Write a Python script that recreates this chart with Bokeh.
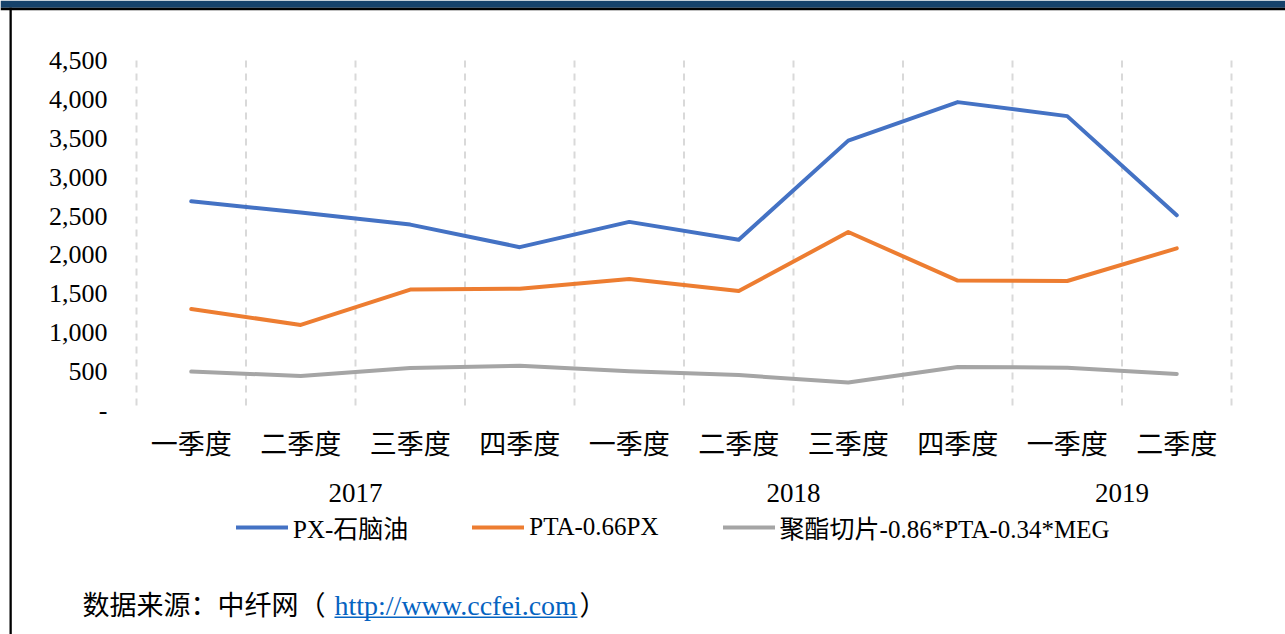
from bokeh.plotting import figure
from bokeh.models import (Range1d, FixedTicker, LinearAxis, Legend, LegendItem,
                          Label, BoxAnnotation, NumeralTickFormatter)
from bokeh.embed import file_html
from bokeh.resources import INLINE

years = ["2017", "2017", "2017", "2017", "2018", "2018", "2018", "2018", "2019", "2019"]
quarters = ["一季度", "二季度", "三季度", "四季度", "一季度", "二季度", "三季度", "四季度", "一季度", "二季度"]
px_naphtha = [2690, 2545, 2390, 2100, 2425, 2195, 3470, 3965, 3785, 2510]
pta_spread = [1305, 1100, 1555, 1565, 1690, 1535, 2295, 1670, 1665, 2085]
pet_spread = [500, 445, 545, 575, 505, 455, 360, 560, 550, 470]
series_names = ["PX-石脑油", "PTA-0.66PX", "聚酯切片-0.86*PTA-0.34*MEG"]
y_ticks = [0, 500, 1000, 1500, 2000, 2500, 3000, 3500, 4000, 4500]
source_text = "数据来源：中纤网（"
source_url = "http://www.ccfei.com"
source_close = "）"

FONT = "Liberation Serif, Noto Sans CJK SC"

# ---- layout constants (page pixels)
W, H = 1285, 634
PLOT_L, PLOT_R, PLOT_T, PLOT_B = 136, 1231, 60, 410
n = len(quarters)
idx = list(range(n))
cat_px = (PLOT_R - PLOT_L) / n
x_start = -0.5 - PLOT_L / cat_px
x_end = n - 0.5 + (W - PLOT_R) / cat_px
ymax = y_ticks[-1]
u_per_px = ymax / (PLOT_B - PLOT_T)
y_start = -(H - PLOT_B) * u_per_px
y_end = ymax + PLOT_T * u_per_px

p = figure(width=W, height=H, output_backend="svg", toolbar_location=None,
           x_range=Range1d(x_start, x_end), y_range=Range1d(y_start, y_end),
           x_axis_type=None, y_axis_type=None,
           min_border=0, min_border_left=0, min_border_right=0,
           min_border_top=0, min_border_bottom=0)
p.outline_line_color = None
p.background_fill_color = "white"
p.border_fill_color = "white"
p.grid.visible = False

# y axis (drawn at the left plot edge)
ya = LinearAxis(ticker=FixedTicker(ticks=y_ticks), formatter=NumeralTickFormatter(format="0,0"),
                major_label_overrides={0: "-"}, fixed_location=-0.5,
                axis_line_color=None, major_tick_line_color=None, minor_tick_line_color=None,
                major_tick_out=0, minor_tick_out=0, major_label_standoff=29,
                major_label_text_font=FONT, major_label_text_font_size="26px",
                major_label_text_color="black")
p.add_layout(ya, "left")

# quarter labels
qa = LinearAxis(ticker=FixedTicker(ticks=idx),
                major_label_overrides={i: q for i, q in zip(idx, quarters)},
                fixed_location=0, axis_line_color=None, major_tick_line_color=None,
                minor_tick_line_color=None, major_tick_out=0, minor_tick_out=0,
                major_label_standoff=19, major_label_text_font=FONT,
                major_label_text_font_size="27px", major_label_text_color="black")
p.add_layout(qa, "below")

# year group labels
year_names = list(dict.fromkeys(years))
year_pos = [sum(i for i, y in zip(idx, years) if y == yr) / years.count(yr) for yr in year_names]
ya2 = LinearAxis(ticker=FixedTicker(ticks=year_pos),
                 major_label_overrides={pos: yr for pos, yr in zip(year_pos, year_names)},
                 fixed_location=0, axis_line_color=None, major_tick_line_color=None,
                 minor_tick_line_color=None, major_tick_out=0, minor_tick_out=0,
                 major_label_standoff=73, major_label_text_font=FONT,
                 major_label_text_font_size="27px", major_label_text_color="black")
p.add_layout(ya2, "below")

# dashed category boundaries
bounds = [i - 0.5 for i in range(n + 1)]
p.segment(x0=bounds, y0=[ymax] * len(bounds), x1=bounds, y1=[y_ticks[0]] * len(bounds),
          line_color="#D9D9D9", line_width=2, line_dash="7 6")

colors = ["#4472C4", "#ED7D31", "#A5A5A5"]
renderers = []
for vals, c in zip([px_naphtha, pta_spread, pet_spread], colors):
    r = p.line(x=idx, y=vals, line_color=c, line_width=4, line_join="round", line_cap="round")
    renderers.append(r)

legend = Legend(items=[LegendItem(label=nm, renderers=[r]) for nm, r in zip(series_names, renderers)],
                orientation="horizontal", location=(236, H - 545),
                glyph_width=52, glyph_height=26, label_standoff=5, spacing=64,
                padding=0, margin=0, border_line_color=None, background_fill_alpha=0,
                label_text_font=FONT, label_text_font_size="25px",
                label_text_color="black")
p.add_layout(legend, "center")

# source line
SY = H - 605
p.add_layout(Label(x=82, y=SY, x_units="screen", y_units="screen", text=source_text,
                   text_font=FONT, text_font_size="27px", text_color="black",
                   text_baseline="middle"))
p.add_layout(Label(x=334, y=SY, x_units="screen", y_units="screen", text=source_url,
                   text_font=FONT, text_font_size="28px", text_color="#0563C1",
                   text_baseline="middle"))
p.add_layout(Label(x=579, y=SY, x_units="screen", y_units="screen", text=source_close,
                   text_font=FONT, text_font_size="27px", text_color="black",
                   text_baseline="middle"))


def screen_box(l, r, t, b, color):
    return BoxAnnotation(left=l, right=r, top=H - t, bottom=H - b,
                         left_units="screen", right_units="screen",
                         top_units="screen", bottom_units="screen",
                         fill_color=color, fill_alpha=1, line_color=None)


p.add_layout(screen_box(334, 577, 616, 617.6, "#0563C1"))   # link underline
p.add_layout(screen_box(0, W, 0, 7.3, "#16426B"))           # top navy bar
p.add_layout(screen_box(0, W, 7.3, 9.7, "black"))           # black rule
p.add_layout(screen_box(9, 11.3, 7.3, H, "black"))          # left border

open("out.html", "w").write(file_html(p, INLINE))
